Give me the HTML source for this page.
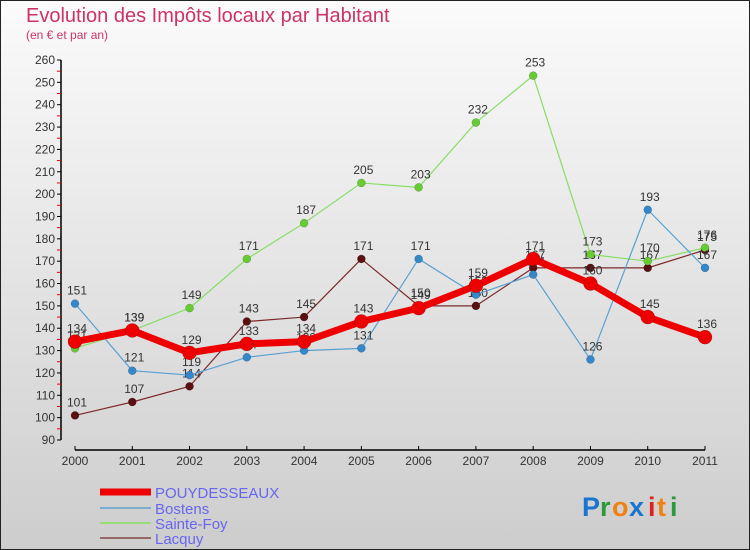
<!DOCTYPE html>
<html><head><meta charset="utf-8"><style>
body{margin:0;width:750px;height:550px;overflow:hidden}
svg{display:block;font-family:"Liberation Sans",sans-serif}
</style></head><body>
<svg id="chart" width="750" height="550" viewBox="0 0 750 550">
<defs><linearGradient id="bg" x1="0" y1="0" x2="0" y2="1"><stop offset="0" stop-color="#fbfbfb"/><stop offset="1" stop-color="#cdcdcd"/></linearGradient></defs>
<rect x="0.5" y="0.5" width="749" height="549" fill="url(#bg)" stroke="#222"/>
<text x="26" y="22" font-size="20" fill="#cc3366">Evolution des Impôts locaux par Habitant</text>
<text x="26" y="39" font-size="12" fill="#cc3366">(en € et par an)</text>
<g id="axes"></g><g id="series"></g><g id="legend"></g>
<g font-size="27" font-weight="bold">
<text x="582" y="516" fill="#1a75cf">P</text><text x="600" y="516" fill="#2a9a3a">r</text><text x="612" y="516" fill="#f08010">o</text><text x="629" y="516" fill="#1a75cf">x</text><text x="648" y="516" fill="#e02020">i</text><text x="657" y="516" fill="#f08010">t</text><text x="670" y="516" fill="#2a9a3a">i</text>
</g>
</svg>
<script>
const years=[2000,2001,2002,2003,2004,2005,2006,2007,2008,2009,2010,2011];
const yTicks=[90,100,110,120,130,140,150,160,170,180,190,200,210,220,230,240,250,260];
const pouy=[134,139,129,133,134,143,149,159,171,160,145,136];
const bostens=[151,121,119,127,130,131,171,155,164,126,193,167];
const sainteFoy=[131,139,149,171,187,205,203,232,253,173,170,176];
const lacquy=[101,107,114,143,145,171,150,150,167,167,167,175];
const NS='http://www.w3.org/2000/svg';
const x=i=>75+i*(630/11);
const y=v=>60+(260-v)*(380/170);
function mk(tag,attrs,parent){const e=document.createElementNS(NS,tag);for(const k in attrs)e.setAttribute(k,attrs[k]);parent.appendChild(e);return e;}
const ax=document.getElementById('axes');
let a=mk('line',{x1:61,y1:60,x2:61,y2:440,stroke:'#000','stroke-width':1.5},ax);


a=mk('line',{x1:75,y1:450,x2:705,y2:450,stroke:'#000','stroke-width':1.5},ax);


yTicks.forEach((v,i)=>{
  mk('line',{x1:57,y1:y(v),x2:61,y2:y(v),stroke:'#000'},ax);
  if(i<yTicks.length-1) mk('line',{x1:57,y1:y(v+5),x2:61,y2:y(v+5),stroke:'#e00'},ax);
  const t=mk('text',{x:55,y:y(v)+4,'text-anchor':'end','font-size':12,fill:'#333'},ax);t.textContent=v;
  
  
});
years.forEach((yr,i)=>{
  mk('line',{x1:x(i),y1:446,x2:x(i),y2:450,stroke:'#000'},ax);
  const t=mk('text',{x:x(i),y:465,'text-anchor':'middle','font-size':12,fill:'#333'},ax);t.textContent=yr;
  
  
});
const sg=document.getElementById('series');
const series=[
 {name:'lacquy',data:lacquy,color:'#7a2a2a',fill:'#5a1010',w:1.2,r:4},
 {name:'sainte-foy',data:sainteFoy,color:'#88dd66',fill:'#66cc33',w:1.2,r:4},
 {name:'bostens',data:bostens,color:'#5aa0d0',fill:'#3388cc',w:1.2,r:4},
 {name:'pouydesseaux',data:pouy,color:'#ee0000',fill:'#ee0000',w:7,r:7}
];
series.forEach(s=>{
  const g=mk('g',{},sg);
  
  
  const p=mk('polyline',{points:s.data.map((v,i)=>x(i)+','+y(v)).join(' '),fill:'none',stroke:s.color,'stroke-width':s.w,'stroke-linejoin':'round'},g);
  
  
  s.data.forEach((v,i)=>{
    const c=mk('circle',{cx:x(i),cy:y(v),r:s.r,fill:s.fill,stroke:'rgba(0,0,0,0.3)','stroke-width':0.5},g);
    
    
    const t=mk('text',{x:x(i)+2,y:y(v)-9,'text-anchor':'middle','font-size':12,fill:'#333'},g);t.textContent=v;
    
    
  });
});
const lg=document.getElementById('legend');
const leg=[['POUYDESSEAUX','#ee0000',7,492],['Bostens','#7aaed0',2,508],['Sainte-Foy','#99dd77',2,523],['Lacquy','#946868',2,538]];
leg.forEach(l=>{
  const g=mk('g',{},lg);
  
  
  mk('line',{x1:100,y1:l[3],x2:151,y2:l[3],stroke:l[1],'stroke-width':l[2]},g);
  const t=mk('text',{x:155,y:l[3]+6,'font-size':15,fill:'#6666ee'},g);t.textContent=l[0];
});
</script>
</body></html>
